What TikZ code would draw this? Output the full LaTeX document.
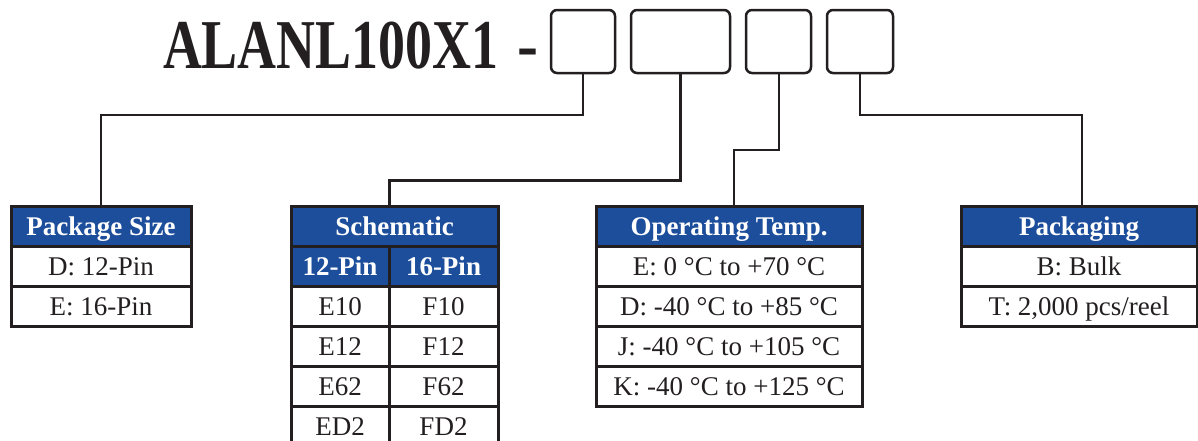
\documentclass[tikz,border=0pt]{standalone}
\usepackage{fontspec}
\setmainfont{Liberation Serif}
\usetikzlibrary{positioning}
\definecolor{hdrblue}{RGB}{28,78,156}
\definecolor{ink}{RGB}{35,31,32}

\begin{document}
\begin{tikzpicture}[x=1pt,y=-1pt,
	every node/.style={inner sep=0pt, outer sep=0pt},
	cell/.style={draw=ink, line width=3pt, fill=white, text=ink, minimum height=40pt, text height=20pt, text depth=2pt, font=\fontsize{27}{30}\selectfont},
	hdr/.style={cell, fill=hdrblue, text=white, font=\fontsize{27}{30}\selectfont\bfseries},
	slot/.style={draw=ink, line width=2.5pt, rounded corners=6pt, minimum width=#1, minimum height=63pt},
	link/.style={draw=ink, line width=2pt}]
				%%%%% START %%%%%
				\def\rowh{40}
				\def\slty{41.5}
				\def\jone{115}
				\def\jtwo{180}
				\def\jthree{150}
				\useasboundingbox (0,0) rectangle (1198,440);

				% part number
				\node[anchor=base west, text=ink, font=\fontsize{70}{70}\selectfont\bfseries] (title) at (163,68) {\scalebox{0.77}[1]{ALANL100X1}};
				\node[anchor=base, text=ink, font=\fontsize{70}{70}\selectfont\bfseries] (dash) at (528,68) {\scalebox{0.9}[1]{-}};

				\node[slot=64pt] (b1) at (583,\slty) {};
				\node[slot=99pt] (b2) at (680.5,\slty) {};
				\node[slot=65pt] (b3) at (778.5,\slty) {};
				\node[slot=66pt] (b4) at (860,\slty) {};

				% package size
				\node[hdr, minimum width=180pt] (ps) at (101,226) {Package Size};
				\node[cell, minimum width=180pt, below=0pt of ps] (psd) {D: 12-Pin};
				\node[cell, minimum width=180pt, below=0pt of psd] (pse) {E: 16-Pin};

				% schematic
				\node[hdr, minimum width=207pt] (sch) at (394.5,226.5) {Schematic};
				\node[hdr, minimum width=98pt, anchor=north west] (p12) at (sch.south west) {12-Pin};
				\node[hdr, minimum width=109pt, right=0pt of p12] (p16) {16-Pin};
				\foreach \e/\f [count=\i] in {E10/F10,E12/F12,E62/F62,ED2/FD2}{
					\node[cell, minimum width=98pt, anchor=north west] (e\i) at (291,{286+\rowh*(\i-1)}) {\e};
					\node[cell, minimum width=109pt, right=0pt of e\i] (f\i) {\f};
				}

				% operating temp
				\node[hdr, minimum width=266pt] (ot) at (729,226) {Operating Temp.};
				\foreach \t [count=\i] in {E: 0 °C to +70 °C,D: -40 °C to +85 °C,J: -40 °C to +105 °C,K: -40 °C to +125 °C}{
					\node[cell, minimum width=266pt, anchor=north] (ot\i) at (729,{246+\rowh*(\i-1)}) {\t};
				}

				% packaging
				\node[hdr, minimum width=236pt] (pk) at (1079,226) {Packaging};
				\node[cell, minimum width=236pt, below=0pt of pk] (pkb) {B: Bulk};
				\node[cell, minimum width=236pt, below=0pt of pkb] (pkt) {T: 2,000 pcs/reel};

				% connectors
				\draw[link] (b1.south) -- (b1.south |- 0,\jone) -| (ps.north);
				\draw[link, line width=3pt] (b2.south) -- (b2.south |- 0,\jtwo) -| (sch.north -| p12.east);
				\draw[link] (b3.south) -- (b3.south |- 0,\jthree) -| ([xshift=5pt]ot.north);
				\draw[link] (b4.south) -- (b4.south |- 0,\jone) -| ([xshift=3pt]pk.north);
				%%%%% START %%%%%
\end{tikzpicture}
\end{document}
